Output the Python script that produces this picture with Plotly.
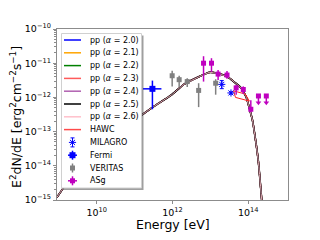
import plotly.graph_objects as go

# ---------------- data ----------------
# model curves E^2 dN/dE vs energy (log10 values), all alphas overlap
curve_logE = [8.95, 9.11, 9.5, 10.0, 10.5, 11.13, 11.5, 11.97, 12.3, 12.71, 12.97,
              13.2, 13.46, 13.63, 13.81, 13.95, 14.05, 14.11, 14.2, 14.27, 14.36]
curve_logF = [-14.92, -14.66, -14.08, -13.55, -13.08, -12.56, -12.27, -11.93, -11.62,
              -11.39, -11.27, -11.30, -11.40, -11.55, -11.72, -12.0, -12.4, -12.66,
              -13.3, -13.9, -15.05]
alphas = ["2.0", "2.1", "2.2", "2.3", "2.4", "2.5", "2.6"]
alpha_colors = ["#0000ff", "#ffa500", "#008000", "#ff5a5a", "#b060b0", "#000000", "#ffc0cb"]

# HAWC butterfly (E, flux)
hawc_E = [4.1e13, 8.3e13, 1.07e14, 4.6e13, 4.1e13]
hawc_F = [1.55e-12, 1.26e-12, 7.8e-13, 1.0e-12, 1.55e-12]

# MILAGRO
milagro_E = [2.0e13, 3.5e13]
milagro_F = [2.4e-12, 1.35e-12]
milagro_hi = [3.1e-12, 1.45e-12]
milagro_lo = [1.8e-12, 1.25e-12]

# Fermi
fermi_E = [2.95e11]
fermi_F = [1.78e-12]
fermi_hi = [3.1e-12]
fermi_lo = [4.5e-13]
fermi_Elo = [1.66e11]
fermi_Ehi = [5.1e11]

# VERITAS
veritas_E = [9.8e11, 1.5e12, 2.45e12, 4.9e12, 1.38e13]
veritas_F = [4.3e-12, 3.3e-12, 2.9e-12, 1.6e-12, 2.6e-12]
veritas_hi = [6.0e-12, 4.3e-12, 3.6e-12, 2.6e-12, 3.4e-12]
veritas_lo = [2.1e-12, 2.0e-12, 2.0e-12, 5.2e-13, 1.2e-12]

# ASgamma
asg_E = [6.6e12, 1.07e13, 1.6e13, 2.75e13, 4.8e13, 7.4e13, 1.17e14]
asg_F = [1.0e-11, 1.0e-11, 4.8e-12, 4.5e-12, 1.9e-12, 1.7e-12, 4.5e-13]
asg_hi = [1.6e-11, 1.4e-11, 6.3e-12, 5.9e-12, 2.3e-12, 2.1e-12, 8.3e-13]
asg_lo = [2.9e-12, 5.6e-12, 3.2e-12, 3.5e-12, 1.2e-12, 1.26e-12, 3.7e-13]
asg_ul_E = [1.86e14, 3.0e14]
asg_ul_F = [1.1e-12, 1.1e-12]

x_tick_vals = [1e10, 1e12, 1e14]
x_tick_text = ["10<sup>10</sup>", "10<sup>12</sup>", "10<sup>14</sup>"]
y_tick_vals = [1e-10, 1e-11, 1e-12, 1e-13, 1e-14, 1e-15]
y_tick_text = ["10<sup>\u221210</sup>", "10<sup>\u221211</sup>", "10<sup>\u221212</sup>",
               "10<sup>\u221213</sup>", "10<sup>\u221214</sup>", "10<sup>\u221215</sup>"]

# ---------------- styling / layout helpers ----------------
OFF = 8                                  # page body margin of the browser
W, H = 320 - OFF, 240 - OFF
PX0, PX1, PY0, PY1 = 57, 288, 29, 200    # plot area in screen pixels
FONT = "DejaVu Sans"
MAG = "#bf00bf"
GRAY = "#808080"
BLUE = "#0000ff"


def px(x):
    return (x - PX0) / (PX1 - PX0)


def py(y):
    return (PY1 - y) / (PY1 - PY0)


fig = go.Figure()

curve_E = [10 ** v for v in curve_logE]
curve_F = [10 ** v for v in curve_logF]
for a, c in zip(alphas, alpha_colors):
    w = 1.5
    if a == "2.5":
        w = 1.7
    if a == "2.6":
        w = 0.9
    fig.add_trace(go.Scatter(x=curve_E, y=curve_F, mode="lines",
                             line=dict(color=c, width=w, shape="spline", smoothing=0.4),
                             showlegend=False, hoverinfo="skip"))

fig.add_trace(go.Scatter(x=hawc_E, y=hawc_F, mode="lines",
                         line=dict(color="#ff2020", width=1), showlegend=False))

fig.add_trace(go.Scatter(
    x=milagro_E, y=milagro_F, mode="markers",
    marker=dict(symbol="asterisk-open", size=6, color=BLUE, line=dict(color=BLUE, width=1)),
    error_y=dict(type="data", symmetric=False,
                 array=[h - f for h, f in zip(milagro_hi, milagro_F)],
                 arrayminus=[f - l for f, l in zip(milagro_F, milagro_lo)],
                 color=BLUE, thickness=1, width=2),
    showlegend=False))

fig.add_trace(go.Scatter(
    x=fermi_E, y=fermi_F, mode="markers",
    marker=dict(symbol="square", size=6, color=BLUE),
    error_y=dict(type="data", symmetric=False,
                 array=[h - f for h, f in zip(fermi_hi, fermi_F)],
                 arrayminus=[f - l for f, l in zip(fermi_F, fermi_lo)],
                 color=BLUE, thickness=1.5, width=0),
    error_x=dict(type="data", symmetric=False,
                 array=[h - e for h, e in zip(fermi_Ehi, fermi_E)],
                 arrayminus=[e - l for e, l in zip(fermi_E, fermi_Elo)],
                 color=BLUE, thickness=1.5, width=0),
    showlegend=False))

fig.add_trace(go.Scatter(
    x=veritas_E, y=veritas_F, mode="markers",
    marker=dict(symbol="square", size=5, color=GRAY),
    error_y=dict(type="data", symmetric=False,
                 array=[h - f for h, f in zip(veritas_hi, veritas_F)],
                 arrayminus=[f - l for f, l in zip(veritas_F, veritas_lo)],
                 color=GRAY, thickness=1.5, width=0),
    showlegend=False))

fig.add_trace(go.Scatter(
    x=asg_E, y=asg_F, mode="markers",
    marker=dict(symbol="square", size=5, color=MAG),
    error_y=dict(type="data", symmetric=False,
                 array=[h - f for h, f in zip(asg_hi, asg_F)],
                 arrayminus=[f - l for f, l in zip(asg_F, asg_lo)],
                 color=MAG, thickness=1.5, width=0),
    showlegend=False))

UL_FACTOR = 0.63
fig.add_trace(go.Scatter(
    x=asg_ul_E, y=asg_ul_F, mode="markers",
    marker=dict(symbol="square", size=5, color=MAG),
    error_y=dict(type="data", symmetric=False, array=[0 for _ in asg_ul_F],
                 arrayminus=[f * (1 - UL_FACTOR) for f in asg_ul_F],
                 color=MAG, thickness=1.5, width=0),
    showlegend=False))
fig.add_trace(go.Scatter(
    x=asg_ul_E, y=[f * UL_FACTOR for f in asg_ul_F], mode="markers",
    marker=dict(symbol="triangle-down", size=5, color=MAG),
    showlegend=False))

# ---------------- hand-drawn legend on an overlay axis ----------------
LX0, LX1, LY0, LY1 = 61.5, 141.5, 33.5, 188
SH = 2
fig.add_trace(go.Scatter(
    x=[px(LX0 + SH), px(LX1 + SH), px(LX1 + SH), px(LX0 + SH), px(LX0 + SH)],
    y=[py(LY0 + SH), py(LY0 + SH), py(LY1 + SH), py(LY1 + SH), py(LY0 + SH)],
    xaxis="x2", yaxis="y2", mode="lines", fill="toself",
    fillcolor="rgba(80,80,80,0.55)", line=dict(width=0), showlegend=False))
fig.add_trace(go.Scatter(
    x=[px(LX0), px(LX1), px(LX1), px(LX0), px(LX0)],
    y=[py(LY0), py(LY0), py(LY1), py(LY1), py(LY0)],
    xaxis="x2", yaxis="y2", mode="lines", fill="toself",
    fillcolor="white", line=dict(width=1, color="#d0d0d0"), showlegend=False))

ROW0, STEP = 40.0, 12.8
labels = ["pp (<i>\u03b1</i> = %s)" % a for a in alphas] + ["HAWC", "MILAGRO", "Fermi", "VERITAS", "ASg"]
line_colors = alpha_colors + ["#ff4a4a"]
annotations = []
for i, lab in enumerate(labels):
    yy = py(ROW0 + i * STEP)
    annotations.append(dict(x=px(87.5), y=yy, xref="paper", yref="paper", text=lab,
                            showarrow=False, xanchor="left", yanchor="middle",
                            font=dict(family=FONT, size=8, color="black")))
    if i < len(line_colors):
        fig.add_trace(go.Scatter(x=[px(64), px(81)], y=[yy, yy], xaxis="x2", yaxis="y2",
                                 mode="lines", line=dict(color=line_colors[i], width=1.5),
                                 showlegend=False))

mx = px(72.5)
dy_leg = 4.5 / (PY1 - PY0)
dx_leg = 4.5 / (PX1 - PX0)
rows = {k: py(ROW0 + (len(line_colors) + j) * STEP) for j, k in enumerate(["mil", "fer", "ver", "asg"])}
fig.add_trace(go.Scatter(x=[mx], y=[rows["mil"]], xaxis="x2", yaxis="y2", mode="markers",
                         marker=dict(symbol="asterisk-open", size=6, color=BLUE,
                                     line=dict(color=BLUE, width=1)),
                         error_y=dict(type="constant", value=dy_leg, color=BLUE, thickness=1, width=2),
                         showlegend=False))
fig.add_trace(go.Scatter(x=[mx], y=[rows["fer"]], xaxis="x2", yaxis="y2", mode="markers",
                         marker=dict(symbol="square", size=6, color=BLUE),
                         error_y=dict(type="constant", value=dy_leg, color=BLUE, thickness=1.5, width=0),
                         error_x=dict(type="constant", value=dx_leg, color=BLUE, thickness=1.5, width=0),
                         showlegend=False))
fig.add_trace(go.Scatter(x=[mx], y=[rows["ver"]], xaxis="x2", yaxis="y2", mode="markers",
                         marker=dict(symbol="square", size=5, color=GRAY),
                         error_y=dict(type="constant", value=dy_leg, color=GRAY, thickness=1.5, width=0),
                         showlegend=False))
fig.add_trace(go.Scatter(x=[mx], y=[rows["asg"]], xaxis="x2", yaxis="y2", mode="markers",
                         marker=dict(symbol="square", size=5, color=MAG),
                         error_y=dict(type="constant", value=dy_leg, color=MAG, thickness=1.5, width=0),
                         error_x=dict(type="constant", value=dx_leg, color=MAG, thickness=1.5, width=0),
                         showlegend=False))

# axis titles
annotations.append(dict(x=px(172.5), y=py(224), xref="paper", yref="paper",
                        text="Energy [eV]", showarrow=False, xanchor="center", yanchor="middle",
                        font=dict(family=FONT, size=12.5, color="black")))
annotations.append(dict(x=px(16), y=py(117), xref="paper", yref="paper",
                        text="E<sup>2</sup>dN/dE [erg<sup>2</sup>cm<sup>\u22122</sup>s<sup>\u22121</sup>]",
                        showarrow=False, xanchor="center", yanchor="middle", textangle=-90,
                        font=dict(family=FONT, size=12.5, color="black")))

axis_common = dict(type="log", showgrid=False, zeroline=False, showline=True, mirror=True,
                   linecolor="#8c8c8c", linewidth=1.3, ticks="outside", ticklen=3,
                   tickcolor="#8c8c8c", automargin=False,
                   tickfont=dict(family=FONT, size=9.5, color="black"))

fig.update_layout(
    width=W, height=H,
    margin=dict(l=PX0 - OFF, r=W - (PX1 - OFF), t=PY0 - OFF, b=H - (PY1 - OFF)),
    paper_bgcolor="white", plot_bgcolor="white",
    showlegend=False,
    xaxis=dict(range=[8.95, 15.05], tickvals=x_tick_vals, ticktext=x_tick_text, **axis_common),
    yaxis=dict(range=[-15, -10], tickvals=y_tick_vals, ticktext=y_tick_text,
               minor=dict(ticks="outside", ticklen=1.5, tickcolor="#8c8c8c", dtick="D1"),
               **axis_common),
    xaxis2=dict(range=[0, 1], overlaying="x", anchor="y2", visible=False, fixedrange=True),
    yaxis2=dict(range=[0, 1], overlaying="y", anchor="x2", visible=False, fixedrange=True),
    annotations=annotations,
)

fig.write_html("out.html")
